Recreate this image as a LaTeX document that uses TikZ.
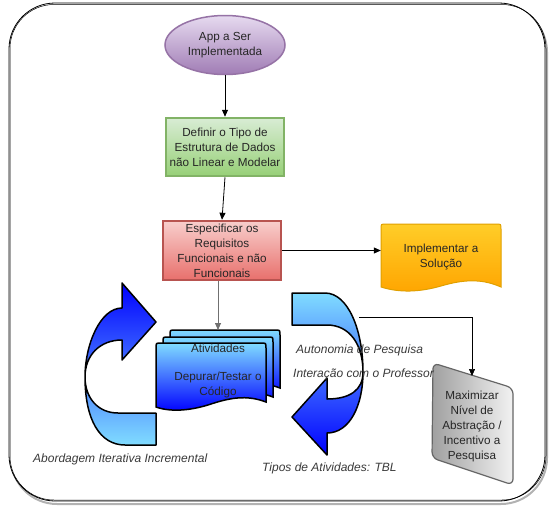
\documentclass[tikz,border=0pt]{standalone}
\usepackage{fontspec}
\setmainfont{Liberation Sans}
\usetikzlibrary{shapes.geometric,arrows.meta}

\definecolor{lilactop}{HTML}{E6DAF0}
\definecolor{lilacbot}{HTML}{A07CB4}
\definecolor{lilacedge}{HTML}{9673A6}
\definecolor{greentop}{HTML}{D8ECD4}
\definecolor{greenbot}{HTML}{97D077}
\definecolor{greenedge}{HTML}{82B366}
\definecolor{redtop}{HTML}{F8CECC}
\definecolor{redbot}{HTML}{E8706C}
\definecolor{rededge}{HTML}{B85450}
\definecolor{orangetop}{HTML}{FFCD28}
\definecolor{orangebot}{HTML}{FFA500}
\definecolor{orangeedge}{HTML}{E0A000}
\definecolor{arrowcyan}{HTML}{80DCFF}
\definecolor{arrowblue}{HTML}{0000FF}
\definecolor{txtgray}{HTML}{262626}
\definecolor{notegray}{HTML}{3A3A3A}
\definecolor{grayedge}{HTML}{666666}
\definecolor{graydark}{HTML}{A0A0A0}
\definecolor{graylight}{HTML}{F2F2F2}
\definecolor{graylink}{HTML}{707070}

\tikzset{
  conn/.style={-{Triangle[length=7pt,width=6pt]}, line width=0.8pt},
  boxtext/.style={align=center, font=\fontsize{11.7}{15}\selectfont, text=txtgray, inner sep=1pt},
  note/.style={anchor=west, inner sep=0pt, font=\fontsize{12}{14}\selectfont\itshape, text=notegray},
  bluearrow/.style={draw=black, line width=1.5pt, line join=round},
  docpage/.style={draw=black, line width=1.5pt, top color=arrowcyan, bottom color=arrowblue},
}

\begin{document}
\begin{tikzpicture}[x=1pt,y=-1pt]
\useasboundingbox (0,0) rectangle (549,507);

% frame
\draw[black!30, line width=2pt, rounded corners=46] (11,6) rectangle (547,504);
\draw[line width=0.8pt, fill=white, rounded corners=46] (9,3) rectangle (545,501);
\draw[line width=0.5pt, rounded corners=44] (10,4.5) rectangle (546,500);

% curved arrows
\draw[bluearrow, top color=arrowblue, bottom color=arrowcyan] (156,413) -- (118,413)
  .. controls (98,413) and (85,398) .. (85,377) .. controls (85,345) and (100,308) .. (122,308)
  -- (122,283) -- (156,322) -- (122,360) -- (122,340)
  .. controls (100,340) and (85,355) .. (85,377) .. controls (85,420) and (100,445) .. (125,445)
  -- (156,445) -- cycle;
\draw[bluearrow, top color=arrowcyan, bottom color=arrowblue] (292,293) -- (325,293)
  .. controls (348,293) and (363,330) .. (363,372) .. controls (363,390) and (350,399) .. (327,399)
  -- (327,378) -- (292,417) -- (327,455) -- (327,433)
  .. controls (350,433) and (363,405) .. (363,372) .. controls (363,345) and (350,325) .. (327,325)
  -- (292,325) -- cycle;

% Atividades pages
\draw[docpage] (170,388) -- (170,335) .. controls (170,330) .. (175,330) -- (275,330)
  .. controls (280,330) .. (280,335) -- (280,388) .. controls (264,382) and (249,382) .. (225,389)
  .. controls (204,396) and (184,397) .. (170,392) -- cycle;
\draw[docpage] (163,395) -- (163,342) .. controls (163,337) .. (168,337) -- (268,337)
  .. controls (273,337) .. (273,342) -- (273,397) .. controls (257,391) and (242,391) .. (218,399)
  .. controls (197,406) and (177,406) .. (163,401) -- cycle;
\draw[docpage] (156,403) -- (156,348) .. controls (156,343) .. (161,343) -- (261,343)
  .. controls (266,343) .. (266,348) -- (266,402) .. controls (250,396) and (235,396) .. (211,404)
  .. controls (190,411) and (170,412) .. (156,407) -- cycle;
\node[boxtext] (ativ) at (218,370.5) {Atividades\\[13pt]Depurar/Testar o\\Código};
\coordinate (ativtop) at (218,330);

% solution page
\draw[draw=orangeedge, line width=1pt, top color=orangetop, bottom color=orangebot]
  (381,287) -- (381,229) .. controls (381,224) .. (386,224) -- (496,224)
  .. controls (501,224) .. (501,229) -- (501,287) .. controls (485,280) and (468,278) .. (441,286)
  .. controls (420,292) and (400,293) .. (381,287) -- cycle;
\node[boxtext, minimum width=120pt, minimum height=63pt] (solucao) at (441,257) {Implementar a\\Solução};

% research box
\draw[draw=grayedge, line width=1.2pt, left color=graydark, right color=graylight, rounded corners=6]
  (433,363) -- (513,388) -- (513,485) -- (432,458) -- cycle;
\node[boxtext] (maxim) at (472,426) {Maximizar\\Nível de\\Abstração /\\Incentivo a\\Pesquisa};
\coordinate (maxtop) at (472,376);
\coordinate (tblstart) at (359,317);

% flow boxes
\node[ellipse, draw=lilacedge, line width=1.5pt, top color=lilactop, bottom color=lilacbot,
  minimum width=120pt, minimum height=59pt, boxtext] (app) at (225,45) {App a Ser\\Implementada};
\node[draw=greenedge, line width=2.5pt, top color=greentop, bottom color=greenbot,
  minimum width=118pt, minimum height=58pt, boxtext] (tipo) at (225,147) {Definir o Tipo de\\Estrutura de Dados\\não Linear e Modelar};
\node[draw=rededge, line width=2.5pt, top color=redtop, bottom color=redbot,
  minimum width=118pt, minimum height=59pt, boxtext] (espec) at (222,250.5) {Especificar os\\Requisitos\\Funcionais e não\\Funcionais};

% connectors
\draw[conn] (app) -- (tipo);
\draw[conn] (tipo.south) -- (espec.north);
\draw[conn] (espec.east) -- (espec.east -| solucao.west);
\draw[conn, draw=graylink] (espec.south -| ativtop) -- (ativtop);
\draw[conn, line width=0.6pt] (tblstart) -| (maxtop);

% notes
\node[note] (autonomia) at (296,350) {Autonomia de Pesquisa};
\node[note] (interacao) at (293,374) {Interação com o Professor};
\node[note] (abordagem) at (33,459) {Abordagem Iterativa Incremental};
\node[note] (tipos) at (262,468) {Tipos de Atividades: TBL};
\end{tikzpicture}
\end{document}
